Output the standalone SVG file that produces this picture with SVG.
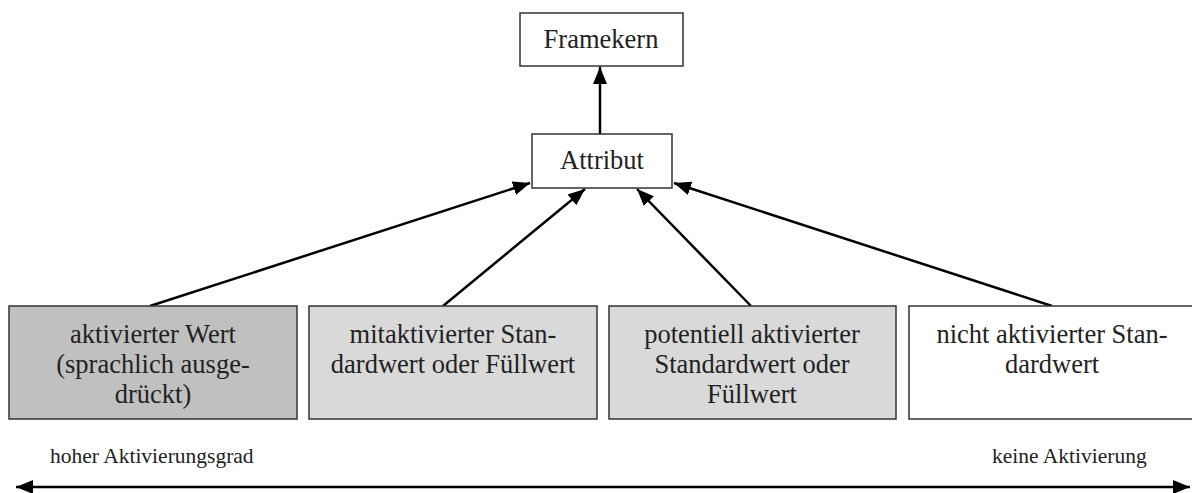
<svg xmlns="http://www.w3.org/2000/svg" width="1192" height="493" viewBox="0 0 1192 493">
<style>
.box{stroke:#333;stroke-width:1.5}
.t{font-family:"Liberation Serif",serif;font-size:26.5px;fill:#222;text-anchor:middle}
.s{font-family:"Liberation Serif",serif;font-size:21.5px;fill:#222}
.c{stroke:#000;stroke-width:2.5;fill:none}
</style>
<defs>
<marker id="ah" markerUnits="userSpaceOnUse" markerWidth="20" markerHeight="16" refX="17" refY="8" orient="auto-start-reverse" viewBox="0 0 20 16">
<path d="M0,1 L17,8 L0,15 Z" fill="#000"/>
</marker>
</defs>
<rect width="1192" height="493" fill="#fff"/>
<g id="connectors">
<line class="c" x1="600" y1="134" x2="600" y2="67" marker-end="url(#ah)"/>
<line class="c" x1="150" y1="306" x2="530" y2="183" marker-end="url(#ah)"/>
<line class="c" x1="443" y1="306" x2="585" y2="189" marker-end="url(#ah)"/>
<line class="c" x1="751" y1="306" x2="637" y2="189" marker-end="url(#ah)"/>
<line class="c" x1="1052" y1="306" x2="674" y2="183" marker-end="url(#ah)"/>
<line class="c" x1="16" y1="487" x2="1190" y2="487" marker-start="url(#ah)" marker-end="url(#ah)"/>
</g>
<g id="framekern">
<rect class="box" x="520" y="13" width="163" height="53" fill="#fff"/>
<text class="t" x="601" y="48">Framekern</text>
</g>
<g id="attribut">
<rect class="box" x="532" y="134" width="140" height="54" fill="#fff"/>
<text class="t" x="602" y="169">Attribut</text>
</g>
<g id="wert1">
<rect class="box" x="9" y="306" width="288" height="113" fill="#c0c0c0"/>
<text class="t" x="153" y="343">aktivierter Wert</text>
<text class="t" x="153" y="373">(sprachlich ausge-</text>
<text class="t" x="153" y="403">drückt)</text>
</g>
<g id="wert2">
<rect class="box" x="309" y="306" width="288" height="113" fill="#d9d9d9"/>
<text class="t" x="453" y="343">mitaktivierter Stan-</text>
<text class="t" x="453" y="373">dardwert oder Füllwert</text>
</g>
<g id="wert3">
<rect class="box" x="609" y="306" width="287" height="113" fill="#d9d9d9"/>
<text class="t" x="752" y="343">potentiell aktivierter</text>
<text class="t" x="752" y="373">Standardwert oder</text>
<text class="t" x="752" y="403">Füllwert</text>
</g>
<g id="wert4">
<rect class="box" x="909" y="306" width="288" height="113" fill="#fff"/>
<text class="t" x="1052" y="343">nicht aktivierter Stan-</text>
<text class="t" x="1052" y="373">dardwert</text>
</g>
<g id="labels">
<text class="s" x="50" y="463">hoher Aktivierungsgrad</text>
<text class="s" x="992" y="463">keine Aktivierung</text>
</g>
</svg>
